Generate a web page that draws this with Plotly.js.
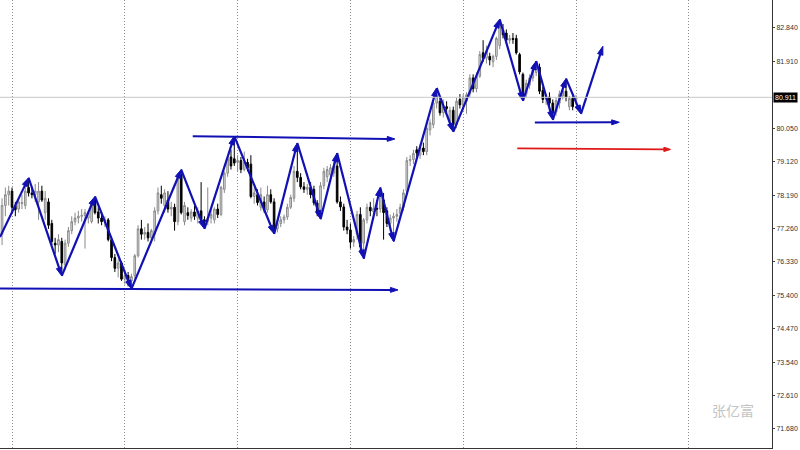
<!DOCTYPE html>
<html>
<head>
<meta charset="utf-8">
<script src="https://cdn.plot.ly/plotly-3.0.1.min.js"></script>
<style>html,body{margin:0;padding:0;background:#fff;}#chart{width:800px;height:450px;}</style>
</head>
<body>
<div id="chart"></div>
<script>
// ---- candle data (bar index = position) ----
const open = [77.10,77.90,78.20,78.30,77.90,77.80,77.95,77.90,78.40,78.25,78.20,78.00,78.30,77.70,78.00,77.40,76.85,76.80,76.90,76.25,76.85,77.20,77.45,77.55,77.60,77.62,77.55,77.45,78.05,77.72,77.55,77.45,77.50,76.95,76.45,76.15,76.30,75.85,75.95,75.80,75.95,76.50,77.25,77.10,77.15,77.00,77.10,77.75,78.20,77.90,78.05,77.80,77.85,77.45,78.75,77.45,77.70,77.55,77.72,77.55,77.75,77.50,77.45,77.55,77.50,77.80,77.65,78.35,78.80,79.25,79.20,79.10,79.15,78.90,79.10,79.05,78.15,78.20,77.85,78.00,77.78,78.20,78.00,77.25,77.40,77.50,77.58,77.85,78.10,78.85,78.68,78.42,78.35,78.40,78.35,77.97,77.75,78.45,78.70,78.75,78.80,79.00,78.00,77.86,77.30,77.22,76.88,77.10,77.65,76.85,77.50,77.85,77.72,77.82,77.80,78.05,77.75,77.40,77.55,77.60,77.68,77.85,78.30,79.15,79.18,79.45,79.30,79.50,79.40,80.00,80.15,80.75,80.80,80.48,80.65,80.25,80.55,80.15,80.85,80.68,80.80,81.00,81.45,81.15,81.50,82.15,82.00,82.05,81.90,82.05,82.35,82.78,82.70,82.50,82.55,82.55,82.10,81.55,81.00,81.25,81.45,81.60,81.75,81.10,80.85,80.92,80.75,80.50,80.75,80.95,81.08,80.65,80.88,80.82];
const high = [78.10,78.40,78.45,78.40,78.00,78.10,78.20,78.45,78.67,78.40,78.50,78.55,78.45,78.30,78.10,77.50,77.00,77.10,77.00,76.95,77.30,77.60,77.70,77.75,77.80,77.80,77.75,78.05,78.15,77.85,77.65,77.60,77.55,77.00,76.55,76.40,76.35,76.10,76.05,76.00,76.55,77.35,77.50,77.30,77.40,77.25,77.85,78.40,78.45,78.35,78.30,78.00,77.95,78.80,78.90,78.00,77.85,77.80,77.90,77.85,78.55,77.60,78.40,77.75,77.85,77.95,78.45,78.85,79.30,79.45,79.83,79.30,79.25,79.40,79.20,79.30,78.40,78.35,78.40,78.15,78.45,78.35,78.10,77.50,77.60,77.65,77.95,78.20,79.00,79.64,78.80,78.55,78.50,78.55,78.45,78.05,78.55,78.95,79.00,79.05,79.10,79.36,78.15,77.95,77.50,77.40,77.05,77.75,77.85,77.55,77.95,78.00,78.10,78.05,78.40,78.25,77.85,77.65,77.70,77.80,77.95,78.35,79.25,79.30,79.45,79.55,79.60,79.65,80.15,80.30,80.85,81.17,80.95,80.85,80.80,80.65,80.65,80.90,81.00,81.00,81.05,81.55,81.55,81.60,82.20,82.50,82.35,82.15,82.10,82.60,83.08,82.95,82.80,82.65,82.70,82.65,82.15,81.60,81.40,81.55,81.80,81.92,81.85,81.20,81.00,81.05,80.85,80.90,81.10,81.20,81.43,80.95,81.00,80.98];
const low = [76.80,77.60,77.90,77.70,77.60,77.70,77.80,77.80,78.15,78.10,78.00,77.50,78.00,77.50,77.25,76.80,76.55,76.60,75.98,76.10,76.75,77.10,77.35,77.40,77.45,76.70,77.40,77.40,77.65,77.40,77.35,77.30,76.90,76.35,76.05,75.90,75.80,75.70,75.65,75.58,75.85,76.45,76.95,76.95,76.90,76.85,76.90,77.65,77.95,77.70,77.70,77.60,77.20,77.35,77.65,77.35,77.50,77.45,77.50,77.40,77.40,77.25,77.35,77.40,77.40,77.55,77.60,78.25,78.70,78.90,79.00,78.85,78.80,78.85,78.85,78.10,77.95,77.90,77.75,77.70,77.70,77.95,77.11,77.15,77.30,77.40,77.50,77.80,78.00,78.55,78.35,78.25,78.20,78.10,77.90,77.60,77.52,78.35,78.55,78.60,78.70,77.95,77.75,77.20,77.10,76.70,76.75,76.95,76.60,76.42,77.40,77.60,77.50,77.60,77.70,76.95,77.30,77.20,76.90,77.45,77.55,77.75,78.20,79.00,79.05,79.25,79.20,79.30,79.30,79.85,80.05,80.60,80.40,80.35,80.45,80.15,79.95,80.05,80.60,80.55,80.45,80.90,81.05,81.05,81.45,81.90,81.85,81.80,81.75,81.95,82.25,82.55,82.40,82.40,82.40,82.10,81.55,80.81,80.90,81.15,81.35,81.50,81.00,80.75,80.70,80.60,80.28,80.40,80.60,80.85,80.80,80.55,80.55,80.70];
const close = [77.90,78.20,78.30,77.85,77.78,78.00,77.98,78.30,78.25,78.20,78.30,78.30,78.05,78.10,77.35,76.90,76.80,76.95,76.30,76.85,77.20,77.45,77.55,77.60,77.62,77.70,77.70,78.00,77.70,77.55,77.45,77.50,76.95,76.45,76.15,76.30,75.85,75.95,75.80,75.92,76.50,77.25,77.10,77.15,77.00,77.20,77.75,78.25,78.10,78.25,77.80,77.85,77.45,78.70,77.70,77.90,77.62,77.72,77.60,77.75,77.50,77.45,77.55,77.65,77.80,77.65,78.40,78.80,79.20,79.00,79.08,79.15,78.90,79.10,78.95,78.15,78.25,77.98,78.20,77.78,78.20,78.00,77.20,77.40,77.50,77.58,77.85,78.12,78.85,78.68,78.42,78.35,78.40,78.20,77.97,77.72,78.45,78.85,78.90,78.95,79.00,78.00,77.86,77.30,77.22,76.88,76.95,77.65,76.75,77.50,77.85,77.75,77.82,77.80,78.25,77.70,77.40,77.55,77.60,77.65,77.85,78.25,79.15,79.18,79.35,79.36,79.50,79.40,80.05,80.20,80.75,80.95,80.48,80.65,80.60,80.55,80.15,80.80,80.70,80.92,80.98,81.45,81.15,81.50,82.10,82.00,82.20,81.95,82.05,82.55,82.95,82.65,82.50,82.55,82.52,82.15,81.62,80.95,81.30,81.45,81.72,81.85,81.08,80.85,80.90,80.75,80.48,80.82,81.00,81.10,80.92,80.88,80.65,80.911];

// ---- drawn analysis lines (bar index, price) ----
const zigzagX = [-0.62, 8, 18, 28, 39, 54, 61, 70, 82, 89, 96, 101, 109, 114, 118, 131, 136, 150, 157, 161, 166, 170, 174.5, 181.1];
const zigzagY = [77.02, 78.67, 75.94, 78.15, 75.58, 78.90, 77.25, 79.83, 77.11, 79.64, 77.52, 79.36, 76.42, 78.40, 76.90, 81.17, 79.95, 83.08, 80.81, 81.92, 80.28, 81.43, 80.45, 82.33];
const supportX = [-0.62, 119.35], supportY = [75.59, 75.55];
const resistX = [57.47, 118.4], resistY = [79.83, 79.75];
const lowLineX = [160.6, 186.05], lowLineY = [80.21, 80.215];
const redLineX = [155.3, 201.5], redLineY = [79.49, 79.46];

// ---- axes ----
const yTicks = [71.68, 72.61, 73.54, 74.47, 75.40, 76.33, 77.26, 78.19, 79.12, 80.05, 81.91, 82.84];
const gridBars = [3, 37, 71, 105, 139, 173, 207];
const lastPrice = close[close.length - 1];
const watermark = '张亿富';

const blue = '#1010b4';
const idx = close.map((_, i) => i);

function arrowLine(x, y, color, w, s) {
  return {
    type: 'scatter', mode: 'lines+markers', x: x, y: y,
    line: {color: color, width: w},
    marker: {symbol: 'arrow', angleref: 'previous', size: x.map((_, i) => i === 0 ? 0 : s), color: color, opacity: 1,
             line: {width: 1, color: color}},
    hoverinfo: 'skip', showlegend: false
  };
}

const traces = [
  {
    type: 'candlestick', x: idx, open: open, high: high, low: low, close: close,
    increasing: {line: {color: '#8a8a8a', width: 1}, fillcolor: '#e0e0e0'},
    decreasing: {line: {color: '#000000', width: 1}, fillcolor: '#000000'},
    whiskerwidth: 0, hoverinfo: 'skip', showlegend: false
  },
  arrowLine(supportX, supportY, blue, 2, 8),
  arrowLine(resistX, resistY, blue, 2, 8),
  arrowLine(lowLineX, lowLineY, blue, 2, 8),
  arrowLine(redLineX, redLineY, '#e01818', 1.6, 7),
  arrowLine(zigzagX, zigzagY, blue, 2.2, 9)
];

const layout = {
  width: 800, height: 450,
  margin: {l: 0, r: 28, t: 0, b: 2},
  paper_bgcolor: '#ffffff', plot_bgcolor: '#ffffff',
  showlegend: false,
  xaxis: {
    range: [-0.62, 232.08], rangeslider: {visible: false},
    tickvals: gridBars, showticklabels: false, ticks: '',
    showgrid: true, gridcolor: '#8c8c8c', gridwidth: 1, griddash: '1px,2px',
    zeroline: false, showline: true, linecolor: '#333333', linewidth: 1
  },
  yaxis: {
    side: 'right', range: [71.15, 83.619],
    tickvals: yTicks, ticktext: yTicks.map(v => v.toFixed(3)),
    ticks: 'outside', ticklen: 2, tickcolor: '#444444', tickwidth: 1,
    tickfont: {family: 'Liberation Sans, Arial, sans-serif', size: 7, color: '#333333'},
    showgrid: false, zeroline: false, showline: true, linecolor: '#333333', linewidth: 1
  },
  shapes: [
    {type: 'line', xref: 'paper', x0: 0, x1: 1, yref: 'y', y0: lastPrice, y1: lastPrice, line: {color: '#c8c8c8', width: 1}}
  ],
  annotations: [
    {xref: 'paper', x: 1, yref: 'y', y: lastPrice, xanchor: 'left', yanchor: 'middle', xshift: 1,
     text: lastPrice.toFixed(3), showarrow: false, bgcolor: '#000000', borderpad: 1,
     font: {family: 'Liberation Sans, Arial, sans-serif', size: 7, color: '#ffffff'}},
    {xref: 'paper', x: 0.949, yref: 'paper', y: 0.085, xanchor: 'center', yanchor: 'middle',
     text: watermark, showarrow: false,
     font: {family: 'Noto Sans CJK SC, sans-serif', size: 14, color: '#c4c4c4'}}
  ]
};

Plotly.newPlot('chart', traces, layout, {displayModeBar: false, staticPlot: true});
</script>
</body>
</html>
